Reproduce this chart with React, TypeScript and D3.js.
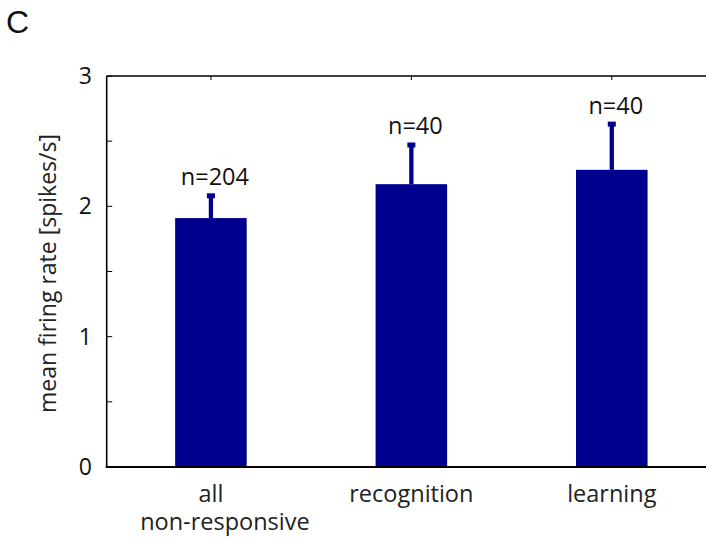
import React from 'react';
import {scaleLinear, range} from 'd3';

const categories = [['all', 'non-responsive'], ['recognition'], ['learning']];
const means = [1.91, 2.17, 2.28];
const errors = [0.19, 0.32, 0.37];
const counts = [204, 40, 40];
const yTicks = [0, 1, 2, 3];

const W = 706;
const H = 541;
const barColor = '#00008f';
const font = '"Open Sans", sans-serif';

export default function App() {
  const x = scaleLinear().domain([0.48, 3.5]).range([106.7, 712]);
  const y = scaleLinear().domain([0, 3]).range([467, 76]);
  const barW = x(1.357) - x(1);
  const minor = range(0, 3.01, 0.5);
  const left = x(0.48);
  const right = x(3.5);

  return (
    <svg width={W} height={H} style={{position: 'absolute', left: 0, top: 0}} fontFamily={font}>
      <rect width={W} height={H} fill="#fff" />
      <text x={6} y={33} fontSize={32} fontFamily='"Liberation Sans", Arial, sans-serif' fill="#111">C</text>

      {means.map((m, i) => {
        const cx = x(i + 1);
        const top = y(m + errors[i]);
        return (
          <g key={i}>
            <rect x={cx - barW / 2} y={y(m)} width={barW} height={y(0) - y(m)} fill={barColor} />
            <line x1={cx} x2={cx} y1={y(m)} y2={top + 2} stroke={barColor} strokeWidth={4.3} />
            <rect x={cx - 4} y={top} width={8} height={5} fill={barColor} />
            <text x={cx + 4} y={top - 8} fontSize={23.5} textAnchor="middle" fill="#111">n={counts[i]}</text>
          </g>
        );
      })}

      {/* axes box */}
      <line x1={left} x2={right} y1={y(3)} y2={y(3)} stroke="#000" strokeWidth={1.3} />
      <line x1={left} x2={left} y1={y(3)} y2={y(0)} stroke="#000" strokeWidth={1.6} />
      <line x1={right} x2={right} y1={y(3)} y2={y(0)} stroke="#000" strokeWidth={1.3} />
      <line x1={left - 1} x2={right} y1={y(0)} y2={y(0)} stroke="#000" strokeWidth={2.2} />

      {minor.map(t => (
        <g key={t}>
          <line x1={left} x2={left + 5.5} y1={y(t)} y2={y(t)} stroke="#000" strokeWidth={1} />
          <line x1={right - 5.5} x2={right} y1={y(t)} y2={y(t)} stroke="#000" strokeWidth={1} />
        </g>
      ))}
      {means.map((_, i) => (
        <line key={i} x1={x(i + 1)} x2={x(i + 1)} y1={y(3)} y2={y(3) + 4} stroke="#000" strokeWidth={1} />
      ))}

      {yTicks.map(t => (
        <text key={t} x={92} y={y(t) + 8} fontSize={23} textAnchor="end" fill="#111">{t}</text>
      ))}

      {categories.map((lines, i) => (
        <text key={i} y={502} fontSize={23.5} textAnchor="middle" fill="#222">
          {lines.map((l, j) => (
            <tspan key={j} x={x(i + 1) + (j === 0 ? 0 : 14)} dy={j === 0 ? 0 : 28}>{l}</tspan>
          ))}
        </text>
      ))}

      <text transform={`translate(56,${(y(0) + y(3)) / 2 + 2}) rotate(-90)`} textAnchor="middle" fontSize={23} fill="#222">
        mean firing rate [spikes/s]
      </text>
    </svg>
  );
}
